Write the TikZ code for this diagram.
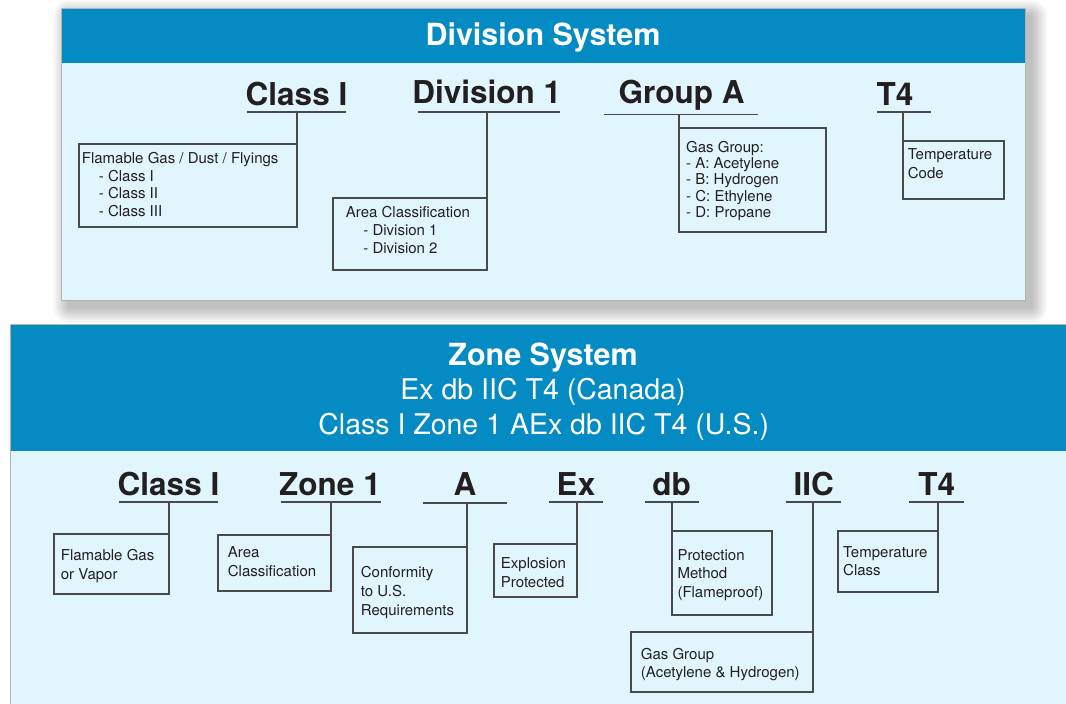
\documentclass[tikz,border=0pt]{standalone}
\usepackage{fontspec}
\setmainfont{TeX Gyre Heros}
\definecolor{hdr}{HTML}{058BC3}
\definecolor{pale}{HTML}{E1F5FD}
\definecolor{ink}{HTML}{231F20}
\definecolor{rulec}{HTML}{4A4A4A}
\definecolor{edge}{HTML}{B3B3B3}
\begin{document}
\begin{tikzpicture}[x=1pt,y=-1pt,
  term/.style={anchor=base, inner sep=0pt, text=ink, font=\fontsize{31.5}{36}\selectfont\bfseries},
  title/.style={anchor=base, inner sep=0pt, text=white, font=\fontsize{30.5}{34}\selectfont\bfseries},
  subtitle/.style={anchor=base, inner sep=0pt, text=white, font=\fontsize{28.5}{32}\selectfont},
  boxst/.style={draw=rulec, line width=1.1pt, anchor=north west, inner sep=0pt, outer sep=0pt},
  desc/.style={anchor=north west, inner sep=0pt, align=left, text=ink, font=\fontsize{15}{#1}\selectfont},
  uline/.style={draw=rulec, line width=1.3pt},
  conn/.style={draw=rulec, line width=1.1pt}]
\useasboundingbox (0,0) rectangle (1066,704);
\fill[white] (0,0) rectangle (1066,704);

% ---- shadow of top panel ----
\foreach \r in {16,14.5,...,1} {
  \fill[black, opacity=0.022, rounded corners=\r pt]
    (61+8-\r,8+8-\r) rectangle (1025+6+\r,300+7+\r);
}

% ---- top panel ----
\fill[pale] (61,8) rectangle (1025,300);
\fill[hdr] (61,8) rectangle (1025,63);
\draw[edge, line width=1pt] (61,8) rectangle (1025,300);
\node[title] (divtitle) at (543,45) {Division System};

% terms
\node[term] (tc) at (296.5,105) {Class I};
\node[term] (td) at (486.7,103.5) {Division 1};
\node[term] (tg) at (681.5,103.5) {Group A};
\node[term] (tt) at (895,105) {T4};
\draw[uline] (247,112) -- (346,112);
\draw[uline] (418,112) -- (560,112);
\draw[uline] (604,114.5) -- (758,114.5);
\draw[uline] (877,112) -- (931,112);

% boxes
\node[boxst, minimum width=218pt, minimum height=83pt] (b1) at (79,144) {};
\node[boxst, minimum width=154pt, minimum height=72pt] (b2) at (333,198) {};
\node[boxst, minimum width=147pt, minimum height=104pt] (b3) at (679,128) {};
\node[boxst, minimum width=101pt, minimum height=58pt] (b4) at (903,141) {};

\coordinate (u1) at (297,112);
\coordinate (u2) at (487,112);
\coordinate (u3) at (679,114.5);
\coordinate (u4) at (903,112);
\draw[conn] (u1) -- (b1.north east);
\draw[conn] (u2) -- (b2.north east);
\draw[conn] (u3) -- (b3.north west);
\draw[conn] (u4) -- (b4.north west);

\node[desc=17.5] (d1) at (81.7,152.5) {Flamable Gas / Dust / Flyings\\\hspace*{17pt}- Class I\\\hspace*{17pt}- Class II\\\hspace*{17pt}- Class III};
\node[desc=17.7] (d2) at (345.7,206.5) {Area Classification\\\hspace*{17.5pt}- Division 1\\\hspace*{17.5pt}- Division 2};
\node[desc=16.25] (d3) at (686,140.9) {Gas Group:\\- A: Acetylene\\- B: Hydrogen\\- C: Ethylene\\- D: Propane};
\node[desc=18.4] (d4) at (907.7,148.5) {Temperature\\Code};

% ---- bottom panel ----
\fill[pale] (10,324.5) rectangle (1080,720);
\fill[hdr] (10,324.5) rectangle (1080,451);
\draw[edge, line width=1pt] (1080,324.5) -- (10,324.5) -- (10,720);
\node[title] (zonetitle) at (543,365) {Zone System};
\node[subtitle] (zonesub1) at (543,399.3) {Ex db IIC T4 (Canada)};
\node[subtitle] (zonesub2) at (543.7,434) {Class I Zone 1 AEx db IIC T4 (U.S.)};

% terms
\node[term] (zc) at (168.5,495) {Class I};
\node[term] (zz) at (330,495) {Zone 1};
\node[term] (za) at (465,495) {A};
\node[term] (ze) at (576,495) {Ex};
\node[term] (zd) at (671.7,495) {db};
\node[term] (zi) at (813.7,495) {IIC};
\node[term] (zt) at (936.7,495) {T4};
\draw[uline] (119,502) -- (218,502);
\draw[uline] (281,502) -- (381,502);
\draw[uline] (423,503) -- (507,503);
\draw[uline] (549,502) -- (603,502);
\draw[uline] (645,502) -- (699,502);
\draw[uline] (786,502) -- (841,502);
\draw[uline] (909,502) -- (964,502);

% boxes
\node[boxst, minimum width=115pt, minimum height=60pt] (c1) at (54,534) {};
\node[boxst, minimum width=113pt, minimum height=56pt] (c2) at (218,535) {};
\node[boxst, minimum width=114pt, minimum height=86pt] (c3) at (353,547) {};
\node[boxst, minimum width=83pt, minimum height=53pt] (c4) at (494,544) {};
\node[boxst, minimum width=100pt, minimum height=84pt] (c5) at (672,531) {};
\node[boxst, minimum width=182pt, minimum height=60pt] (c6) at (631,632) {};
\node[boxst, minimum width=100pt, minimum height=61pt] (c7) at (838,531) {};

\coordinate (v1) at (169,502);
\coordinate (v2) at (331,502);
\coordinate (v3) at (467,503);
\coordinate (v4) at (577,502);
\coordinate (v5) at (672,502);
\coordinate (v6) at (813,502);
\coordinate (v7) at (938,502);
\draw[conn] (v1) -- (c1.north east);
\draw[conn] (v2) -- (c2.north east);
\draw[conn] (v3) -- (c3.north east);
\draw[conn] (v4) -- (c4.north east);
\draw[conn] (v5) -- (c5.north west);
\draw[conn] (v6) -- (c6.north east);
\draw[conn] (v7) -- (c7.north east);

\node[desc=19] (e1) at (60.7,549.2) {Flamable Gas\\or Vapor};
\node[desc=18.7] (e2) at (227.7,546.5) {Area\\Classification};
\node[desc=18.8] (e3) at (360.7,566.5) {Conformity\\to U.S.\\Requirements};
\node[desc=18.4] (e4) at (500.7,557.5) {Explosion\\Protected};
\node[desc=18.5] (e5) at (677.3,549.2) {Protection\\Method\\(Flameproof)};
\node[desc=18.3] (e6) at (640.7,648.2) {Gas Group\\(Acetylene \& Hydrogen)};
\node[desc=18.3] (e7) at (843,545.9) {Temperature\\Class};
\end{tikzpicture}
\end{document}
